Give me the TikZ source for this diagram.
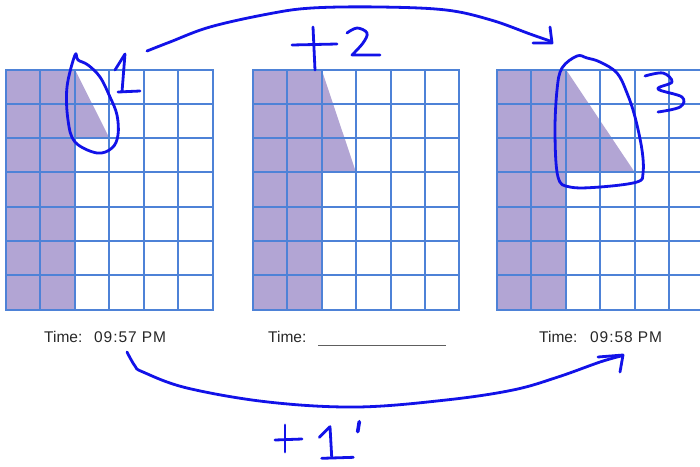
\documentclass[tikz,border=0pt]{standalone}
\usepackage{fontspec}
\setmainfont{Liberation Sans}
\definecolor{gridblue}{RGB}{78,130,215}
\definecolor{cellpurple}{RGB}{178,165,212}
\definecolor{ink}{RGB}{18,18,232}
\definecolor{txt}{RGB}{40,40,40}
\begin{document}
\begin{tikzpicture}[x=1pt,y=-1pt,
 gridline/.style={draw=gridblue,line width=2pt,line cap=rect},
 pen/.style={draw=ink,line width=2.8pt,line cap=round,line join=round},
 lbl/.style={inner sep=0pt,anchor=base west,text=txt,font=\fontsize{15.5}{18}\selectfont},
 tlbl/.style={lbl,font=\fontsize{15.5}{18}\selectfont\addfontfeatures{LetterSpace=6}}]
\useasboundingbox (0,0) rectangle (700,466);
\fill[white] (0,0) rectangle (700,466);
\begin{scope}
\clip (0,0) rectangle (700,466);
% shaded columns
\foreach \x in {6,252.7,497} {
  \fill[cellpurple] (\x,69.5) rectangle ++(68.9,240.1);
}
% shaded triangles
\fill[cellpurple] (74.9,69.5) -- (109.4,138.1) -- (74.9,138.1) -- cycle;
\fill[cellpurple] (321.6,69.5) -- (356,172.4) -- (321.6,172.4) -- cycle;
\fill[cellpurple] (565.9,69.5) -- (634.8,172.4) -- (565.9,172.4) -- cycle;
% grids
\foreach \x in {6,252.7,497} {
  \foreach \i in {0,...,6} \draw[gridline] (\x+\i*34.45,69.5) -- ++(0,240.1);
  \foreach \j in {0,...,7} \draw[gridline] (\x,69.5+\j*34.3) -- ++(206.7,0);
}
\end{scope}
% time labels
\node[lbl] (t1a) at (44,342.5) {Time:};
\node[tlbl] (t1b) at (94,342.5) {09:57 PM};
\node[lbl] (t2a) at (268,342.5) {Time:};
\coordinate (u1) at (318,345.5);
\coordinate (u2) at (446,345.5);
\draw[txt!75,line width=1.1pt] (u1) -- (u2);
\node[lbl] (t3a) at (539,342.5) {Time:};
\node[tlbl] (t3b) at (590,342.5) {09:58 PM};
% handwriting: top arc +2
\draw[pen] plot[smooth,tension=0.6] coordinates {(147,51) (170,42) (210,27) (268,14) (312,8) (380,7) (446,10) (491,20) (530,34) (550,41)};
\draw[pen] (550,27) -- (552,43) -- (533,43);
\draw[pen] (292,45) -- (337,44);
\draw[pen] (313,27) -- (315,70);
\draw[pen] plot[smooth,tension=0.6] coordinates {(347,33) (357,28) (367,33) (363,43) (352,55)} -- (380,55);
% circle 1 and "1"
\draw[pen] plot[smooth cycle,tension=0.6] coordinates {(75,55) (67,87) (68,120) (75,142) (97,153) (112,148) (118,135) (117,115) (110,97) (100,77) (88,65) (78,60)};
\draw[pen] (115,70) -- (125,54) -- (122,92);
\draw[pen] (118,92) -- (140,91);
% circle 3 and "3"
\draw[pen] plot[smooth cycle,tension=0.6] coordinates {(577,56) (562,68) (557,90) (555,133) (558,177) (570,187) (600,187) (637,182) (643,173) (642,150) (635,117) (627,93) (617,73) (600,62) (587,58)};
\draw[pen] plot[smooth,tension=0.6] coordinates {(645,76) (663,73) (672,82) (658,89) (682,97) (680,107) (658,112)};
% bottom arc +1'
\draw[pen] plot[smooth,tension=0.6] coordinates {(127,352) (135,366) (143,372) (187,388) (268,402) (357,407) (446,400) (513,390) (558,377) (600,362) (621,356)};
\draw[pen] (598,357) -- (623,355) -- (620,372);
\draw[pen] (275,440) -- (302,439);
\draw[pen] (285,425) -- (285,452);
\draw[pen] (319.3,437.3) -- (330,426.7) -- (331.7,456.7);
\draw[pen] (321.7,458.3) -- (353.3,457.3);
\draw[pen,line width=3.6pt] (359.3,421.7) -- (357.7,431.7);
\end{tikzpicture}
\end{document}
